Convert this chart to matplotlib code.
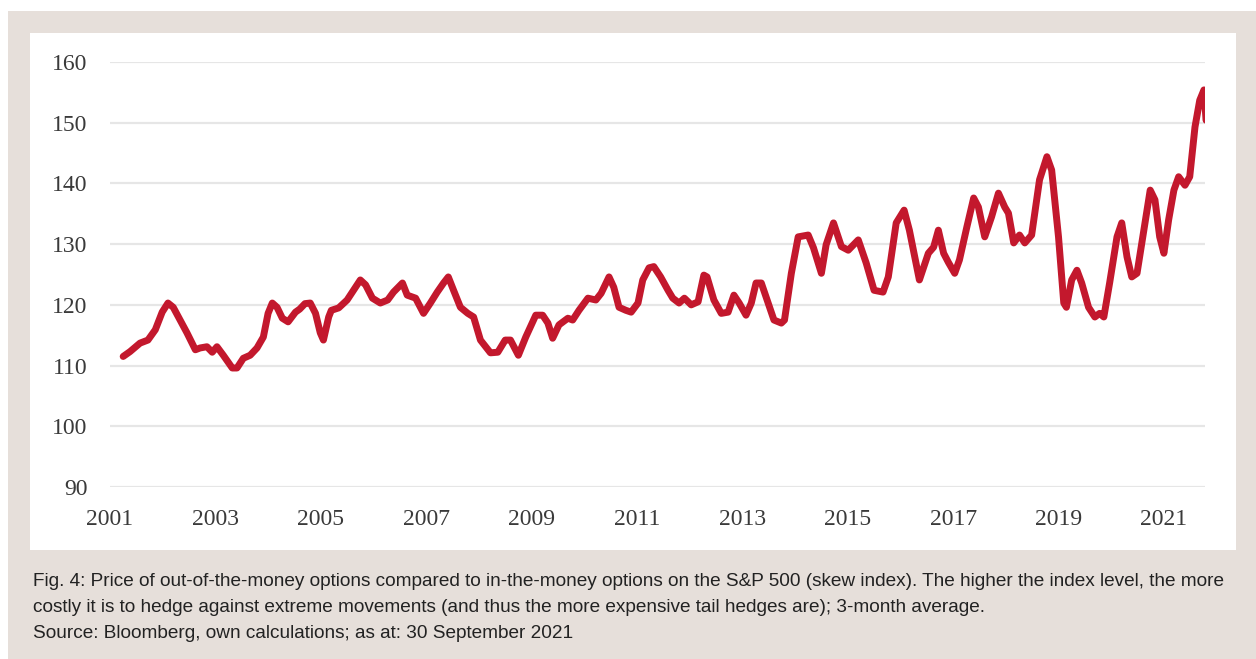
import matplotlib
matplotlib.use('Agg')
import matplotlib.pyplot as plt
import matplotlib.patches as patches
import numpy as np

# Skew index, 3-month average
years = [2001.25, 2001.38, 2001.57, 2001.72, 2001.86, 2001.99, 2002.10, 2002.20, 2002.33, 2002.46,
         2002.62, 2002.71, 2002.84, 2002.94, 2003.03, 2003.15, 2003.32, 2003.41, 2003.53, 2003.66,
         2003.79, 2003.91, 2004.00, 2004.08, 2004.17, 2004.27, 2004.38, 2004.52, 2004.60, 2004.70,
         2004.80, 2004.90, 2004.99, 2005.05, 2005.15, 2005.20, 2005.34, 2005.50, 2005.62, 2005.75,
         2005.85, 2005.98, 2006.13, 2006.27, 2006.38, 2006.55, 2006.64, 2006.80, 2006.95, 2007.08,
         2007.21, 2007.33, 2007.42, 2007.52, 2007.65, 2007.79, 2007.90, 2008.03, 2008.22, 2008.36,
         2008.50, 2008.60, 2008.75, 2008.89, 2009.08, 2009.21, 2009.31, 2009.40, 2009.52, 2009.69,
         2009.78, 2009.90, 2010.07, 2010.22, 2010.32, 2010.47, 2010.56, 2010.66, 2010.79, 2010.89,
         2011.02, 2011.11, 2011.23, 2011.32, 2011.45, 2011.59, 2011.68, 2011.80, 2011.90, 2012.03,
         2012.16, 2012.27, 2012.33, 2012.46, 2012.60, 2012.73, 2012.84, 2012.94, 2013.07, 2013.17,
         2013.26, 2013.36, 2013.49, 2013.60, 2013.74, 2013.80, 2013.93, 2014.06, 2014.25, 2014.35,
         2014.50, 2014.59, 2014.73, 2014.88, 2015.01, 2015.20, 2015.35, 2015.50, 2015.67, 2015.77,
         2015.92, 2016.07, 2016.17, 2016.36, 2016.53, 2016.63, 2016.72, 2016.82, 2016.91, 2017.03,
         2017.12, 2017.26, 2017.39, 2017.48, 2017.60, 2017.73, 2017.86, 2017.98, 2018.05, 2018.15,
         2018.26, 2018.36, 2018.49, 2018.64, 2018.78, 2018.87, 2019.00, 2019.10, 2019.15, 2019.25,
         2019.35, 2019.44, 2019.57, 2019.69, 2019.78, 2019.86, 2019.97, 2020.11, 2020.20, 2020.30,
         2020.39, 2020.49, 2020.62, 2020.74, 2020.83, 2020.92, 2021.00, 2021.09, 2021.19, 2021.28,
         2021.40, 2021.49, 2021.59, 2021.68, 2021.76, 2021.80]
skew = [111.5, 112.3, 113.7, 114.2, 115.9, 118.8, 120.3, 119.6, 117.5, 115.4,
        112.6, 112.9, 113.1, 112.2, 113.1, 111.7, 109.6, 109.6, 111.2, 111.7,
        112.9, 114.7, 118.6, 120.3, 119.6, 117.8, 117.2, 118.8, 119.3, 120.2,
        120.3, 118.6, 115.4, 114.2, 118.0, 119.1, 119.5, 120.8, 122.4, 124.1,
        123.3, 121.1, 120.3, 120.8, 122.1, 123.6, 121.6, 121.1, 118.6, 120.3,
        122.1, 123.6, 124.6, 122.4, 119.6, 118.6, 118.0, 114.2, 112.1, 112.2,
        114.2, 114.2, 111.7, 114.7, 118.3, 118.3, 117.0, 114.5, 116.7, 117.8,
        117.5, 119.1, 121.1, 120.8, 121.9, 124.6, 122.9, 119.6, 119.1, 118.8,
        120.3, 124.1, 126.1, 126.3, 124.6, 122.4, 121.1, 120.3, 121.1, 120.0,
        120.5, 124.9, 124.6, 120.8, 118.6, 118.8, 121.6, 120.3, 118.3, 120.3,
        123.6, 123.6, 120.3, 117.5, 117.0, 117.5, 125.2, 131.2, 131.5, 129.4,
        125.2, 129.9, 133.5, 129.6, 129.0, 130.7, 126.9, 122.4, 122.1, 124.6,
        133.5, 135.6, 132.3, 124.1, 128.5, 129.5, 132.3, 128.5, 127.0, 125.2,
        127.4, 132.8, 137.6, 136.1, 131.2, 134.5, 138.4, 136.1, 135.1, 130.2,
        131.5, 130.2, 131.5, 140.6, 144.4, 142.2, 131.2, 120.3, 119.6, 124.1,
        125.7, 123.6, 119.6, 118.0, 118.6, 118.0, 123.6, 131.2, 133.5, 127.9,
        124.6, 125.2, 132.3, 138.9, 137.3, 131.2, 128.5, 134.0, 138.9, 141.1,
        139.7, 141.1, 149.3, 153.7, 155.4, 150.4]

y_ticks = [90, 100, 110, 120, 130, 140, 150, 160]
x_ticks = list(range(2001, 2022, 2))

caption = ("Fig. 4: Price of out-of-the-money options compared to in-the-money options on the S&P 500 (skew index). "
           "The higher the index level, the more\n"
           "costly it is to hedge against extreme movements (and thus the more expensive tail hedges are); "
           "3-month average.\n"
           "Source: Bloomberg, own calculations; as at: 30 September 2021")

W, H = 1256, 659
fig = plt.figure(figsize=(W / 100, H / 100), dpi=100)
fig.patch.set_facecolor('white')

# beige frame and white chart panel (behind the axes)
fig.patches.append(patches.Rectangle((8 / W, 0), 1 - 8 / W, 1 - 11 / H, transform=fig.transFigure,
                                     facecolor='#E6DFDA', edgecolor='none', zorder=-3))
fig.patches.append(patches.Rectangle((30 / W, 1 - 550 / H), (1236 - 30) / W, (550 - 33) / H,
                                     transform=fig.transFigure, facecolor='white',
                                     edgecolor='none', zorder=-2))

ax = fig.add_axes([110 / W, 1 - 487 / H, (1205 - 110) / W, (487 - 62) / H])
ax.set_facecolor('none')
ax.plot(years, skew, color='#C3182D', lw=5, solid_capstyle='round', solid_joinstyle='round', zorder=3)

ax.set_ylim(90, 160)
ax.set_xlim(2001, 2021.78)
ax.set_yticks(y_ticks)
ax.set_xticks(x_ticks)
ax.yaxis.grid(True, color='#E6E6E6', lw=1.6)
ax.set_axisbelow(True)
for s in ax.spines.values():
    s.set_visible(False)
ax.tick_params(length=0, labelsize=17, labelcolor='#3A3A3A')
ax.tick_params(axis='y', pad=16)
ax.tick_params(axis='x', pad=15.5)
for lab in ax.get_xticklabels() + ax.get_yticklabels():
    lab.set_fontfamily('Liberation Serif')

fig.text(33 / W, 1 - 573 / H, caption, ha='left', va='top', fontsize=13.7,
         family='Liberation Sans', color='#222222', linespacing=1.70)

fig.savefig('out.png', dpi=100, facecolor=fig.get_facecolor())
